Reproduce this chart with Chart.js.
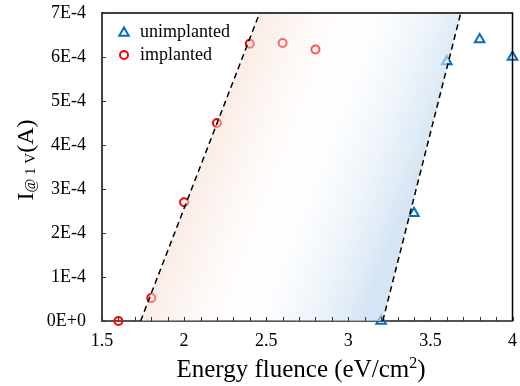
<!DOCTYPE html>
<html>
<head>
<meta charset="utf-8">
<script src="https://cdn.jsdelivr.net/npm/chart.js@4"></script>
<style>
  html, body { margin: 0; padding: 0; background: #fff; }
</style>
</head>
<body>
<canvas id="chart" width="520" height="386"></canvas>
<script>
// Data
const unimplantedX = [3.2, 3.4, 3.6, 3.8, 4.0];
const unimplantedY = [0, 2.45e-4, 5.9e-4, 6.4e-4, 6.0e-4];
const implantedX = [1.6, 1.8, 2.0, 2.2, 2.4, 2.6, 2.8];
const implantedY = [0, 0.52e-4, 2.7e-4, 4.5e-4, 6.3e-4, 6.32e-4, 6.17e-4];

// dashed guide lines (bottom and top end points)
const leftGuideX = [1.735, 2.46];
const rightGuideX = [3.21, 3.685];
const guideY = [0, 7e-4];

const xMin = 1.5, xMax = 4, xMinor = 0.1, xMajor = 0.5;
const yMin = 0, yMax = 7e-4, yStep = 1e-4;

const SERIF = '"Liberation Serif", "DejaVu Serif", serif';
const RED = '#ff0000';
const BLUE = '#0070c0';

const toPts = (xs, ys) => xs.map((x, i) => ({ x: x, y: ys[i] }));

// gradient band between the two guides, drawn over the markers
let bandDrawn = false;
const bandPlugin = {
  id: 'band',
  beforeDatasetsDraw() { bandDrawn = false; },
  beforeDatasetDraw(chart, args) {
    const ds = chart.data.datasets[args.index];
    if (!ds.guide || bandDrawn) return;
    bandDrawn = true;
    const xs = chart.scales.x, ys = chart.scales.y, ctx = chart.ctx;
    const p = (x, y) => [xs.getPixelForValue(x), ys.getPixelForValue(y)];
    const l0 = p(leftGuideX[0], guideY[0]), l1 = p(leftGuideX[1], guideY[1]);
    const r0 = p(rightGuideX[0], guideY[0]), r1 = p(rightGuideX[1], guideY[1]);
    // gradient perpendicular to the left guide
    let dx = l1[0] - l0[0], dy = l1[1] - l0[1];
    const len = Math.hypot(dx, dy);
    const nx = -dy / len, ny = dx / len;
    const sx = (l0[0] + l1[0]) / 2, sy = (l0[1] + l1[1]) / 2;
    const mx = (r0[0] + r1[0]) / 2;
    const d = (mx - sx) * nx;
    const g = ctx.createLinearGradient(sx, sy, sx + nx * d, sy + ny * d);
    g.addColorStop(0, 'rgba(246,220,208,0.55)');
    g.addColorStop(0.45, 'rgba(255,255,255,0.25)');
    g.addColorStop(1, 'rgba(196,218,238,0.7)');
    ctx.save();
    ctx.beginPath();
    ctx.moveTo(l0[0], l0[1]);
    ctx.lineTo(l1[0], l1[1]);
    ctx.lineTo(r1[0], r1[1]);
    ctx.lineTo(r0[0], r0[1]);
    ctx.closePath();
    ctx.fillStyle = g;
    ctx.fill();
    ctx.restore();
  }
};

// frame, inner ticks, legend, axis titles
const decorPlugin = {
  id: 'decor',
  afterDraw(chart) {
    const ctx = chart.ctx, a = chart.chartArea;
    const xs = chart.scales.x, ys = chart.scales.y;
    ctx.save();
    // top and right border
    ctx.strokeStyle = '#000';
    ctx.lineWidth = 1.5;
    ctx.beginPath();
    ctx.moveTo(a.left, a.top);
    ctx.lineTo(a.right, a.top);
    ctx.lineTo(a.right, a.bottom);
    ctx.stroke();

    // inner ticks
    ctx.strokeStyle = '#333';
    ctx.lineWidth = 1;
    ctx.beginPath();
    xs.ticks.forEach(t => {
      const x = Math.round(xs.getPixelForValue(t.value)) + 0.5;
      ctx.moveTo(x, a.bottom);
      ctx.lineTo(x, a.bottom - 4);
    });
    ys.ticks.forEach(t => {
      const y = Math.round(ys.getPixelForValue(t.value)) + 0.5;
      ctx.moveTo(a.left, y);
      ctx.lineTo(a.left + 4, y);
    });
    ctx.stroke();

    // legend
    const items = [
      { label: chart.data.datasets[0].label, style: 'triangle', color: BLUE, y: 32 },
      { label: chart.data.datasets[1].label, style: 'circle', color: RED, y: 55 }
    ];
    items.forEach(it => {
      const cx = 124;
      ctx.strokeStyle = it.color;
      ctx.lineWidth = 2;
      ctx.beginPath();
      if (it.style === 'circle') {
        ctx.arc(cx, it.y, 4, 0, Math.PI * 2);
      } else {
        const r = 5.5;
        for (let k = 0; k < 3; k++) {
          const ang = k * 2 * Math.PI / 3;
          const px = cx + Math.sin(ang) * r, py = it.y + 1 - Math.cos(ang) * r;
          k ? ctx.lineTo(px, py) : ctx.moveTo(px, py);
        }
        ctx.closePath();
      }
      ctx.stroke();
      ctx.fillStyle = '#000';
      ctx.font = '18px ' + SERIF;
      ctx.textBaseline = 'middle';
      ctx.textAlign = 'left';
      ctx.fillText(it.label, 140, it.y);
    });

    // draws runs of text centred on (0,0) along the baseline
    const drawRuns = parts => {
      let total = 0;
      parts.forEach(pt => { ctx.font = pt.f; pt.w = ctx.measureText(pt.t).width; total += pt.w; });
      let x = -total / 2;
      ctx.textBaseline = 'alphabetic';
      ctx.textAlign = 'left';
      ctx.fillStyle = '#000';
      parts.forEach(pt => {
        ctx.font = pt.f;
        ctx.fillText(pt.t, x, pt.dy);
        x += pt.w;
      });
    };

    // x axis title: Energy fluence (eV/cm2)
    ctx.save();
    ctx.translate(301, 377);
    drawRuns([
      { t: 'Energy fluence (eV/cm', f: '25px ' + SERIF, dy: 0 },
      { t: '2', f: '16px ' + SERIF, dy: -9 },
      { t: ')', f: '25px ' + SERIF, dy: 0 }
    ]);
    ctx.restore();

    // y axis title: I@1V(A)
    ctx.translate(33, 160);
    ctx.rotate(-Math.PI / 2);
    drawRuns([
      { t: 'I', f: '24px ' + SERIF, dy: 0 },
      { t: '@ 1 V', f: '15px ' + SERIF, dy: 2 },
      { t: '(A)', f: '24px ' + SERIF, dy: 0 }
    ]);
    ctx.restore();
  }
};

const ctx = document.getElementById('chart').getContext('2d');
new Chart(ctx, {
  type: 'scatter',
  data: {
    datasets: [
      {
        label: 'unimplanted',
        data: toPts(unimplantedX, unimplantedY),
        pointStyle: 'triangle',
        pointRadius: 5.5,
        borderColor: BLUE,
        backgroundColor: 'rgba(0,0,0,0)',
        borderWidth: 2,
        clip: false,
        order: 2
      },
      {
        label: 'implanted',
        data: toPts(implantedX, implantedY),
        pointStyle: 'circle',
        pointRadius: 4,
        borderColor: RED,
        backgroundColor: 'rgba(0,0,0,0)',
        borderWidth: 2,
        clip: false,
        order: 2
      },
      {
        label: 'guide left',
        guide: true,
        type: 'line',
        data: toPts(leftGuideX, guideY),
        borderColor: '#000',
        borderWidth: 1.5,
        borderDash: [6, 4],
        pointRadius: 0,
        fill: false,
        order: 1
      },
      {
        label: 'guide right',
        guide: true,
        type: 'line',
        data: toPts(rightGuideX, guideY),
        borderColor: '#000',
        borderWidth: 1.5,
        borderDash: [6, 4],
        pointRadius: 0,
        fill: false,
        order: 1
      }
    ]
  },
  options: {
    responsive: false,
    animation: false,
    layout: { padding: { top: 13, right: 7, left: 0, bottom: 0 } },
    plugins: {
      legend: { display: false },
      tooltip: { enabled: false }
    },
    scales: {
      x: {
        type: 'linear',
        min: xMin,
        max: xMax,
        afterFit: s => { s.height = 65; s.paddingLeft = 0; s.paddingRight = 0; },
        grid: { drawOnChartArea: false, drawTicks: false },
        border: { display: true, color: '#555', width: 2 },
        ticks: {
          stepSize: xMinor,
          autoSkip: false,
          maxRotation: 0,
          padding: 9,
          color: '#000',
          font: { family: SERIF, size: 18 },
          callback: v => {
            const k = v / xMajor;
            return Math.abs(k - Math.round(k)) < 1e-6 ? String(+v.toFixed(1)) : '';
          }
        }
      },
      y: {
        type: 'linear',
        min: yMin,
        max: yMax,
        afterFit: s => { s.width = 102; s.paddingTop = 0; s.paddingBottom = 0; },
        grid: { drawOnChartArea: false, drawTicks: false },
        border: { display: true, color: '#444', width: 2 },
        ticks: {
          stepSize: yStep,
          padding: 16,
          color: '#000',
          font: { family: SERIF, size: 18 },
          callback: v => v.toExponential(0).toUpperCase()
        }
      }
    }
  },
  plugins: [bandPlugin, decorPlugin]
});
</script>
</body>
</html>
